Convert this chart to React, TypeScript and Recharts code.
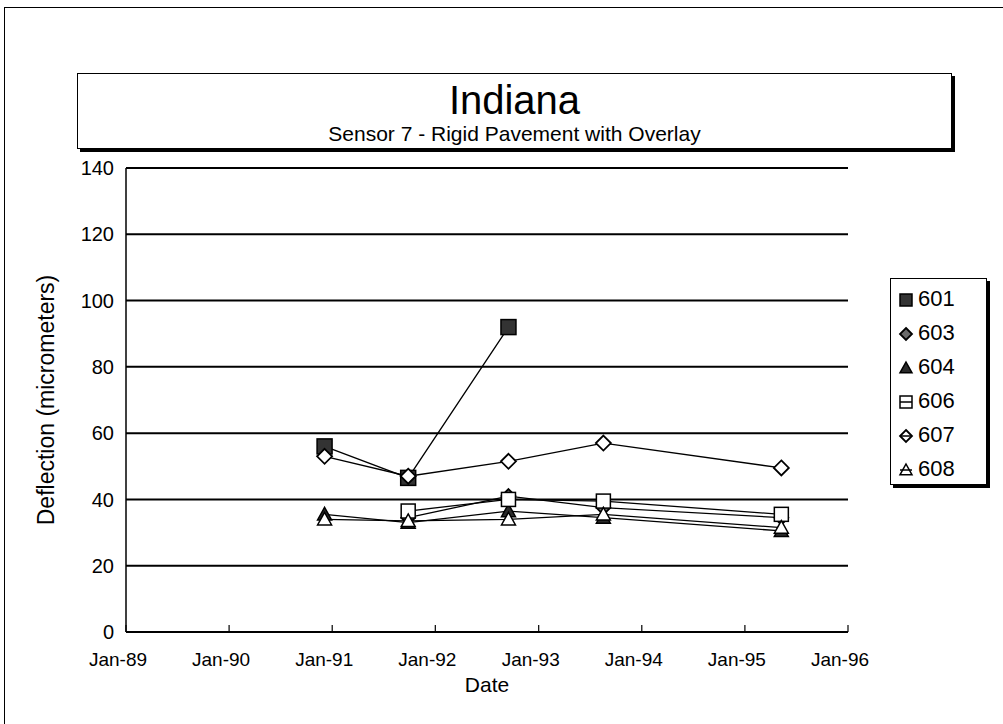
import React from "react";
import {
  CartesianGrid,
  Line,
  LineChart,
  XAxis,
  YAxis,
} from "recharts";

// sampling dates and deflections (micrometers)
const sampleDates = ["1990-12-05", "1991-09-27", "1992-09-16", "1993-08-18", "1995-05-10"];
const s601 = [56, 46.5, 92, null, null];
const s603 = [null, 34.5, 41, 37.5, 34.5];
const s604 = [35.5, 33, 36.5, 34.5, 30.5];
const s606 = [null, 36.5, 40, 39.5, 35.5];
const s607 = [53, 47, 51.5, 57, 49.5];
const s608 = [34, 33.5, 34, 35.5, 31.5];

const yearTicks = ["1989-01-01", "1990-01-01", "1991-01-01", "1992-01-01", "1993-01-01", "1994-01-01", "1995-01-01", "1996-01-01"];
const yTicks = [0, 20, 40, 60, 80, 100, 120, 140];

const FONT = "'Liberation Sans', Arial, sans-serif";
const MONTHS = ["Jan", "Feb", "Mar", "Apr", "May", "Jun", "Jul", "Aug", "Sep", "Oct", "Nov", "Dec"];

const toTs = (s: string) => {
  const [y, m, d] = s.split("-").map(Number);
  return Date.UTC(y, m - 1, d);
};

const fmtDate = (t: number) => {
  const d = new Date(t);
  return `${MONTHS[d.getUTCMonth()]}-${String(d.getUTCFullYear()).slice(2)}`;
};

type Shape = "square" | "diamond" | "triangle";

interface SeriesDef {
  key: string;
  name: string;
  values: (number | null)[];
  shape: Shape;
  fill: string;
  size: number;
}

const series: SeriesDef[] = [
  { key: "s601", name: "601", values: s601, shape: "square", fill: "#333", size: 15 },
  { key: "s603", name: "603", values: s603, shape: "diamond", fill: "#6a6a6a", size: 14 },
  { key: "s604", name: "604", values: s604, shape: "triangle", fill: "#2a2a2a", size: 14 },
  { key: "s606", name: "606", values: s606, shape: "square", fill: "#fff", size: 14 },
  { key: "s607", name: "607", values: s607, shape: "diamond", fill: "#fff", size: 15 },
  { key: "s608", name: "608", values: s608, shape: "triangle", fill: "#fff", size: 14 },
];

const data = sampleDates.map((d, i) => {
  const row: Record<string, number | null> = { t: toTs(d) };
  series.forEach(s => {
    row[s.key] = s.values[i];
  });
  return row;
});

function Marker({ cx, cy, shape, fill, size }: { cx: number; cy: number; shape: Shape; fill: string; size: number }) {
  const h = size / 2;
  if (shape === "square") {
    return <rect x={cx - h} y={cy - h} width={size} height={size} fill={fill} stroke="#000" strokeWidth={1.5} />;
  }
  if (shape === "diamond") {
    return (
      <polygon
        points={`${cx},${cy - h} ${cx + h},${cy} ${cx},${cy + h} ${cx - h},${cy}`}
        fill={fill}
        stroke="#000"
        strokeWidth={1.8}
      />
    );
  }
  return (
    <polygon
      points={`${cx},${cy - h} ${cx + h},${cy + h * 0.8} ${cx - h},${cy + h * 0.8}`}
      fill={fill}
      stroke="#000"
      strokeWidth={1.5}
    />
  );
}

const makeDot = (s: SeriesDef) => (props: any) => {
  const { cx, cy, index, value } = props;
  if (value == null || cx == null || cy == null) return <g key={`${s.key}-${index}`} />;
  return (
    <g key={`${s.key}-${index}`}>
      <Marker cx={cx} cy={cy} shape={s.shape} fill={s.fill} size={s.size} />
    </g>
  );
};

// x tick: label plus a short tick mark pointing up into the plot
const DateTick = (props: any) => {
  const { x, y, payload } = props;
  return (
    <g>
      <line x1={x} x2={x} y1={y} y2={y - 7} stroke="#000" strokeWidth={1.2} />
      <text x={x - 8} y={y} dy={34} textAnchor="middle" fill="#000" fontSize={19} fontFamily={FONT}>
        {fmtDate(payload.value)}
      </text>
    </g>
  );
};

const LegendBox = () => (
  <div
    style={{
      position: "absolute",
      left: 890,
      top: 278,
      width: 97,
      height: 207,
      border: "1px solid #000",
      boxShadow: "3px 3px 0 #000",
      background: "#fff",
      boxSizing: "border-box",
      paddingTop: 3,
    }}>
    {series.map(s => (
      <div key={s.key} style={{ display: "flex", alignItems: "center", height: 34, paddingLeft: 6 }}>
        <svg width={18} height={18} style={{ marginRight: 3 }}>
          {s.fill === "#fff" && <line x1={3} x2={15} y1={10} y2={10} stroke="#000" strokeWidth={1.5} />}
          <Marker cx={9} cy={10} shape={s.shape} fill={s.fill === "#fff" ? "none" : s.fill} size={12} />
        </svg>
        <span style={{ fontFamily: FONT, fontSize: 22, color: "#000" }}>{s.name}</span>
      </div>
    ))}
  </div>
);

export default function App() {
  return (
    <div style={{ position: "fixed", left: 0, top: 0, width: 1003, height: 724, background: "#fff", overflow: "hidden" }}>
      {/* outer chart frame */}
      <div style={{ position: "absolute", left: 4, top: 7, width: 1100, height: 800, border: "1px solid #000" }} />
      {/* title box */}
      <div
        style={{
          position: "absolute",
          left: 77,
          top: 73,
          width: 873,
          height: 74,
          border: "1px solid #000",
          boxShadow: "3px 3px 0 #000",
          background: "#fff",
          textAlign: "center",
          fontFamily: FONT,
          color: "#000",
        }}>
        <div style={{ fontSize: 40, lineHeight: "44px", marginTop: 4 }}>Indiana</div>
        <div style={{ fontSize: 21, lineHeight: "22px", marginTop: 1 }}>Sensor 7 - Rigid Pavement with Overlay</div>
      </div>
      <div style={{ position: "absolute", left: 0, top: 0 }}>
        <LineChart width={1003} height={724} data={data} margin={{ top: 168, right: 155, bottom: 40, left: 68 }}>
          <CartesianGrid vertical={false} stroke="#000" strokeWidth={2} />
          <XAxis
            dataKey="t"
            type="number"
            scale="linear"
            domain={[toTs(yearTicks[0]), toTs(yearTicks[yearTicks.length - 1])]}
            ticks={yearTicks.map(toTs)}
            tick={<DateTick />}
            tickLine={false}
            tickSize={0}
            tickMargin={0}
            height={52}
            axisLine={{ stroke: "#000", strokeWidth: 2 }}
            interval={0}
            label={{ value: "Date", position: "insideBottom", offset: -8, fill: "#000", fontSize: 21, fontFamily: FONT }}
          />
          <YAxis
            domain={[0, 140]}
            ticks={yTicks}
            width={58}
            interval={0}
            tickLine={false}
            tickMargin={6}
            axisLine={{ stroke: "#000", strokeWidth: 1.5 }}
            tick={{ fill: "#000", fontSize: 20, fontFamily: FONT }}
            label={{
              value: "Deflection (micrometers)",
              angle: -90,
              position: "insideLeft",
              offset: -22,
              style: { textAnchor: "middle" },
              fill: "#000",
              fontSize: 23,
              fontFamily: FONT,
            }}
          />
          <YAxis yAxisId="right" orientation="right" domain={[0, 140]} tick={false} tickLine={false} width={0} axisLine={{ stroke: "#000", strokeWidth: 1.5 }} />
          {series.map(s => (
            <Line
              key={s.key}
              dataKey={s.key}
              name={s.name}
              type="linear"
              stroke="#000"
              strokeWidth={1.3}
              dot={makeDot(s)}
              activeDot={false}
              connectNulls
              isAnimationActive={false}
            />
          ))}
        </LineChart>
      </div>
      <LegendBox />
    </div>
  );
}
